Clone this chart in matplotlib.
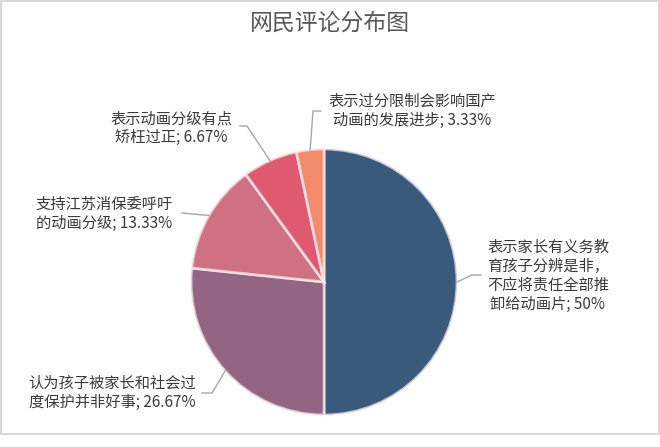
import numpy as np
import matplotlib.pyplot as plt
from matplotlib.patches import Rectangle

plt.rcParams['font.family'] = ['Noto Sans CJK SC', 'DejaVu Sans']

# data
labels = ['表示家长有义务教\n育孩子分辨是非，\n不应将责任全部推\n卸给动画片; 50%',
          '认为孩子被家长和社会过\n度保护并非好事; 26.67%',
          '支持江苏消保委呼吁\n的动画分级; 13.33%',
          '表示动画分级有点\n矫枉过正; 6.67%',
          '表示过分限制会影响国产\n动画的发展进步; 3.33%']
shares = [50, 26.67, 13.33, 6.67, 3.33]
colors = ['#3a5a7c', '#946583', '#d07183', '#df5a70', '#f28b6c']
title = '网民评论分布图'

W, H = 660, 447
fig = plt.figure(figsize=(W / 100, H / 100), dpi=100)
ax = fig.add_axes([0, 0, 1, 1])

def py(y):
    # pixel row -> data y
    return H - y

cx, cy, r = 324, 282, 133
wedges, _ = ax.pie(shares, colors=colors, startangle=90, counterclock=False,
                   center=(cx, py(cy)), radius=r,
                   wedgeprops=dict(edgecolor=(1, 0.95, 0.96, 0.7), linewidth=2))
ax.set_xlim(0, W)
ax.set_ylim(0, H)
ax.set_aspect('equal')
ax.axis('off')

# label centers (pixel) and leader bend/end points
label_pos = [(548, 276), (112, 393), (104, 214), (171, 128), (412, 111)]
leaders = [[(472, 275), (481, 275)],
           [(212, 393), (202, 393)],
           [(182, 213)],
           [(247, 126), (240, 126)],
           [(313, 111), (321, 111)]]

for w, pts in zip(wedges, leaders):
    mid = np.deg2rad((w.theta1 + w.theta2) / 2)
    sx = cx + r * np.cos(mid)
    sy = py(cy) + r * np.sin(mid)
    xs = [sx] + [p[0] for p in pts]
    ys = [sy] + [py(p[1]) for p in pts]
    ax.plot(xs, ys, color='#a6a6a6', lw=1)

for lab, (lx, ly) in zip(labels, label_pos):
    ax.text(lx, py(ly), lab, ha='center', va='center', fontsize=11,
            color='#3a3a3a', linespacing=1.15)

ax.text(W / 2, py(23), title, ha='center', va='center', fontsize=16.5,
        color='#595959')

fig.patches.append(Rectangle((1 / W, 1 - 434 / H), 658 / W, 433 / H,
                             transform=fig.transFigure, fill=False,
                             edgecolor='#d9d9d9', lw=1.5))

fig.savefig('out.png', dpi=100)
